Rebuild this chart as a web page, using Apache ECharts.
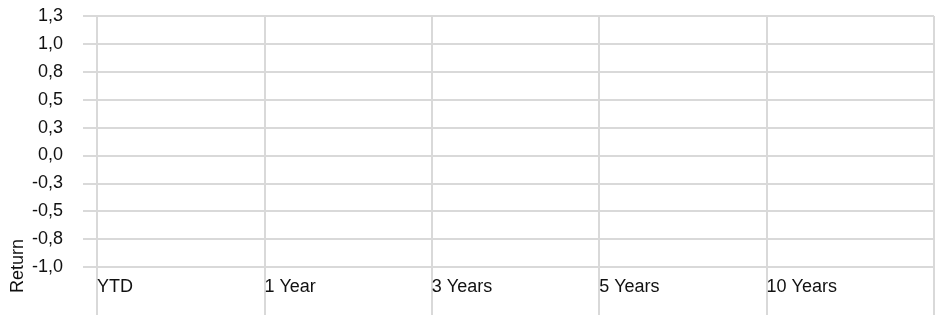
<!DOCTYPE html>
<html>
<head>
<meta charset="utf-8">
<title>Return</title>
<script src="https://cdn.jsdelivr.net/npm/echarts@6/dist/echarts.min.js"></script>
<style>
	html, body { margin: 0; padding: 0; background: #fff; }
	#div_canvas_chart { width: 940px; height: 315px; }
</style>
</head>
<body>
<div id="div_canvas_chart"></div>
<script>
	// periods, last slot empty so the labels sit on the left border of each band
	var categories = ['YTD', '1 Year', '3 Years', '5 Years', '10 Years', ''];
	// no values in the reference chart
	var returnValues = [];
	var yMin = -1;
	var yMax = 1.25;
	var yStep = 0.25;

	var gridColor = '#d9d9d9';
	var textColor = '#111';
	var fontFamily = 'Liberation Sans, Arial, sans-serif';

	function fmtTick(v) {
		return v.toFixed(1).replace('.', ',');
	}

	var currChart = echarts.init(document.getElementById('div_canvas_chart'));
	var option = {
		animation: false,
		grid: {
			left: 97,
			right: 6,
			top: 16,
			bottom: 48,
			containLabel: false
		},
		xAxis: {
			type: 'category',
			data: categories,
			boundaryGap: false,
			axisLine: {
				show: true,
				onZero: false,
				lineStyle: { color: gridColor, width: 2 }
			},
			axisTick: {
				show: true,
				interval: 0,
				length: 48,
				lineStyle: { color: gridColor, width: 2 }
			},
			axisLabel: {
				interval: 0,
				align: 'left',
				margin: 11,
				color: textColor,
				fontSize: 18,
				fontFamily: fontFamily
			},
			splitLine: {
				show: true,
				lineStyle: { color: gridColor, width: 2 }
			}
		},
		yAxis: {
			type: 'value',
			min: yMin,
			max: yMax,
			interval: yStep,
			axisLine: {
				show: true,
				lineStyle: { color: gridColor, width: 2 }
			},
			axisTick: {
				show: true,
				length: 14,
				lineStyle: { color: gridColor, width: 2 }
			},
			axisLabel: {
				margin: 34,
				color: textColor,
				fontSize: 18,
				fontFamily: fontFamily,
				formatter: fmtTick
			},
			splitLine: {
				show: true,
				lineStyle: { color: gridColor, width: 2 }
			}
		},
		graphic: [{
			type: 'text',
			x: 18,
			y: 266,
			rotation: Math.PI / 2,
			style: {
				text: 'Return',
				align: 'center',
				verticalAlign: 'middle',
				fill: textColor,
				fontSize: 18,
				fontFamily: fontFamily
			}
		}],
		series: [{
			name: 'Return',
			type: 'line',
			data: returnValues
		}]
	};
	currChart.setOption(option);
</script>
</body>
</html>
